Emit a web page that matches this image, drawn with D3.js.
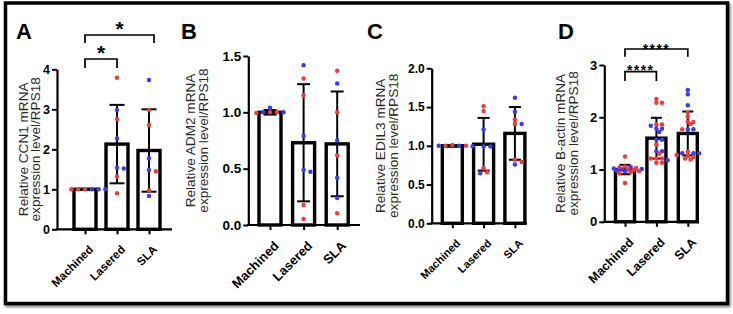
<!DOCTYPE html>
<html><head><meta charset="utf-8">
<script src="https://cdn.jsdelivr.net/npm/d3@7"></script>
<style>body{margin:0;background:#fff} svg{display:block}</style>
</head><body>
<svg id="chart" width="733" height="314"></svg>
<script>
// ---------- data ----------
const categories = ["Machined", "Lasered", "SLA"];
const panelLetters = ["A", "B", "C", "D"];
const yLabels = [
  ["Relative CCN1 mRNA", "expression level/RPS18"],
  ["Relative ADM2 mRNA", "expression level/RPS18"],
  ["Relative EDIL3 mRNA", "expression level/RPS18"],
  ["Relative B-actin mRNA", "expression level/RPS18"]
];
const yTicksA = [0, 1, 2, 3, 4];
const yTicksB = [0, 0.5, 1.0, 1.5];
const yTicksC = [0, 0.5, 1.0, 1.5, 2.0];
const yTicksD = [0, 1, 2, 3];

const meansA = [1.00, 2.13, 1.97];
const sdA    = [0.01, 0.98, 1.03];
const redA   = [[1.0, 1.0, 1.0], [3.79, 2.76, 1.32, 0.90], [2.98, 2.61, 1.45, 0.97]];
const blueA  = [[1.0, 1.0, 1.0], [2.98, 2.27, 1.52, 1.54], [3.73, 1.77, 1.48, 0.83]];

const meansB = [1.00, 0.73, 0.72];
const sdB    = [0.02, 0.52, 0.465];
const redB   = [[1.0, 1.0, 0.995], [1.30, 1.15, 0.177, 0.053], [1.37, 1.0, 0.62, 0.104]];
const blueB  = [[1.04, 1.0, 1.0], [1.417, 0.79, 0.473, 0.488], [1.257, 0.75, 0.42, 0.24]];

const meansC = [1.00, 1.02, 1.16];
const sdC    = [0.01, 0.34, 0.34];
const redC   = [[1.01, 1.0, 1.0], [1.51, 1.45, 0.71, 0.66], [1.34, 1.28, 0.82, 0.79]];
const blueC  = [[1.0, 0.995, 1.0], [1.21, 0.99, 0.99, 0.645], [1.62, 1.44, 1.28, 0.76]];

const meansD = [1.00, 1.60, 1.69];
const sdD    = [0.09, 0.39, 0.42];
const redD   = [[1.25, 0.74, 1.06, 1.03, 1.01, 0.99, 0.97, 0.95, 0.93, 1.04],
                [2.35, 2.28, 2.28, 1.86, 1.86, 1.48, 1.30, 1.21, 1.21, 1.21, 1.13, 1.13],
                [2.09, 2.01, 1.91, 1.91, 1.87, 1.77, 1.34, 1.28, 1.26, 1.24, 1.21, 1.19]];
const blueD  = [[1.05, 1.02, 1.0, 0.98, 0.96, 1.01],
                [1.84, 1.78, 1.78, 1.72, 1.57, 1.57, 1.35, 1.35, 1.18],
                [2.52, 2.44, 2.23, 1.77, 1.77, 1.31, 1.31, 1.31]];

const sigLabelsA = ["*", "*"];
const sigLabelsD = ["****", "****"];

// ---------- layout ----------
const RED = "#f03c3c", BLUE = "#3c3cf2";
const panels = [
  {letter: panelLetters[0], ylab: yLabels[0], ticks: yTicksA, fmt: d3.format("d"), ymax: 4,
   means: meansA, sd: sdA, red: redA, blue: blueA,
   axisX: 57, zeroY: 229.3, topY: 69.3, c0: 85, step: 32, barW: 22, capW: 15, axisEnd: 172,
   xFont: 11.5, tFont: 12.5, labX: 22.5, letX: 16, md: 4.3, ms: 3.4,
   sig: [{a: 0, b: 1, y: 59, drop: 68, t: sigLabelsA[0], fs: 21, ls: 0, off: 1},
         {a: 0, b: 2, y: 35, drop: 43, t: sigLabelsA[1], fs: 21, ls: 0, dx: 5, off: 1}]},
  {letter: panelLetters[1], ylab: yLabels[1], ticks: yTicksB, fmt: d3.format(".1f"), ymax: 1.5,
   means: meansB, sd: sdB, red: redB, blue: blueB,
   axisX: 248.3, zeroY: 225, topY: 56, c0: 270, step: 33.6, barW: 22, capW: 13, axisEnd: 360,
   xFont: 13, tFont: 13.5, labX: 190, letX: 181, md: 4.3, ms: 3.4, sig: []},
  {letter: panelLetters[2], ylab: yLabels[2], ticks: yTicksC, fmt: d3.format(".1f"), ymax: 2,
   means: meansC, sd: sdC, red: redC, blue: blueC,
   axisX: 431.7, zeroY: 223.3, topY: 68.3, c0: 452.3, step: 31.3, barW: 20, capW: 12, axisEnd: 527,
   xFont: 11, tFont: 12, labX: 380, letX: 367, md: 4.3, ms: 3.4, sig: []},
  {letter: panelLetters[3], ylab: yLabels[3], ticks: yTicksD, fmt: d3.format("d"), ymax: 3,
   means: meansD, sd: sdD, red: redD, blue: blueD,
   axisX: 604.3, zeroY: 221.8, topY: 65, c0: 625, step: 31.4, barW: 19, capW: 11, axisEnd: 697,
   xFont: 12.5, tFont: 13, labX: 560, letX: 558, md: 3.4, ms: 2.8,
   sig: [{a: 0, b: 1, y: 71.7, drop: 81, t: sigLabelsD[0], fs: 14, ls: 1.4, off: 3},
         {a: 0, b: 2, y: 49, drop: 56.7, t: sigLabelsD[1], fs: 14, ls: 1.4, off: 5}]}
];

const svg = d3.select("#chart");
const defs = svg.append("defs");
const f = defs.append("filter").attr("id", "sh").attr("x", "-5%").attr("y", "-5%").attr("width", "110%").attr("height", "110%");
f.append("feDropShadow").attr("dx", 1.5).attr("dy", 2).attr("stdDeviation", 1.2).attr("flood-color", "#000").attr("flood-opacity", 0.5);

// frame
svg.append("rect").attr("x", 5.5).attr("y", 3).attr("width", 722).attr("height", 300.5)
  .attr("fill", "#fff").attr("stroke", "#000").attr("stroke-width", 3.5).attr("filter", "url(#sh)");

const FONT = "'Liberation Sans', Arial, Helvetica, sans-serif";

function swarm(pts, cx, minDist, step) {
  const placed = [];
  pts.forEach(p => {
    let x = cx;
    for (let k = 0; k < 60; k++) {
      const off = k === 0 ? 0 : (k % 2 ? 1 : -1) * Math.ceil(k / 2) * step;
      x = cx + off;
      if (!placed.some(q => (q.x - x) ** 2 + (q.y - p.y) ** 2 < minDist * minDist)) break;
    }
    placed.push({x, y: p.y, c: p.c});
  });
  return placed;
}

panels.forEach(P => {
  const g = svg.append("g");
  const y = d3.scaleLinear().domain([0, P.ymax]).range([P.zeroY, P.topY]);
  const x = d3.scalePoint().domain(categories).range([P.c0, P.c0 + 2 * P.step]);

  // panel letter
  g.append("text").attr("x", P.letX).attr("y", 39).text(P.letter)
    .attr("font-family", FONT).attr("font-weight", "bold").attr("font-size", 22).attr("fill", "#000");

  // y label
  const mid = (P.zeroY + P.topY) / 2;
  P.ylab.forEach((t, i) => {
    g.append("text").attr("transform", `translate(${P.labX + i * 12.8 + 5},${mid}) rotate(-90)`)
      .attr("text-anchor", "middle").attr("font-family", FONT).attr("font-size", 13.6).attr("fill", "#2a2a2a")
      .text(t);
  });

  // bars
  g.selectAll("rect.bar").data(categories).join("rect")
    .attr("x", d => x(d) - P.barW / 2).attr("width", P.barW)
    .attr("y", (d, i) => y(P.means[i])).attr("height", (d, i) => P.zeroY - y(P.means[i]))
    .attr("fill", "#fff").attr("stroke", "#000").attr("stroke-width", 3.4);

  // error bars
  categories.forEach((c, i) => {
    const cx = x(c), hi = y(P.means[i] + P.sd[i]), lo = y(P.means[i] - P.sd[i]);
    const eg = g.append("g").attr("stroke", "#000").attr("stroke-width", 2);
    eg.append("line").attr("x1", cx).attr("x2", cx).attr("y1", hi).attr("y2", lo);
    eg.append("line").attr("x1", cx - P.capW / 2).attr("x2", cx + P.capW / 2).attr("y1", hi).attr("y2", hi);
    eg.append("line").attr("x1", cx - P.capW / 2).attr("x2", cx + P.capW / 2).attr("y1", lo).attr("y2", lo);
  });

  // axes
  const ya = d3.axisLeft(y).tickValues(P.ticks).tickFormat(P.fmt).tickSize(5).tickSizeOuter(0).tickPadding(2);
  const yg = g.append("g").attr("transform", `translate(${P.axisX},0)`).call(ya);
  yg.select(".domain").attr("stroke-width", 2.2);
  yg.selectAll(".tick line").attr("stroke-width", 2);
  yg.selectAll(".tick text").attr("font-family", FONT).attr("font-weight", "bold").attr("font-size", P.tFont).attr("fill", "#000");

  const xa = d3.axisBottom(x).tickSize(5).tickSizeOuter(0).tickFormat("");
  const xg = g.append("g").attr("transform", `translate(0,${P.zeroY})`).call(xa);
  xg.select(".domain").remove();
  xg.selectAll(".tick line").attr("stroke-width", 2);
  g.append("line").attr("x1", P.axisX - 1.1).attr("x2", P.axisEnd).attr("y1", P.zeroY).attr("y2", P.zeroY)
    .attr("stroke", "#000").attr("stroke-width", 2.2);
  categories.forEach(c => {
    g.append("text").attr("transform", `translate(${x(c) + 3},${P.zeroY + 15}) rotate(-45)`)
      .attr("text-anchor", "end").attr("dy", "0.72em")
      .attr("font-family", FONT).attr("font-weight", "bold").attr("font-size", P.xFont).attr("fill", "#000")
      .text(c);
  });

  // points
  categories.forEach((c, i) => {
    const pts = [];
    const r = P.red[i], b = P.blue[i];
    const n = Math.max(r.length, b.length);
    for (let k = 0; k < n; k++) {
      if (k < r.length) pts.push({y: y(r[k]), c: RED});
      if (k < b.length) pts.push({y: y(b[k]), c: BLUE});
    }
    pts.sort((p, q) => p.y - q.y);
    const placed = swarm(pts, x(c), P.md, P.ms);
    g.selectAll(null).data(placed).join("circle")
      .attr("cx", d => d.x).attr("cy", d => d.y).attr("r", 2.25).attr("fill", d => d.c);
  });

  // significance brackets
  P.sig.forEach(s => {
    const x1 = x(categories[s.a]), x2 = x(categories[s.b]) + (s.dx || 0);
    g.append("path").attr("d", `M${x1},${s.drop}V${s.y}H${x2}V${s.drop}`)
      .attr("fill", "none").attr("stroke", "#000").attr("stroke-width", 1.7);
    g.append("text").attr("x", (x1 + x2) / 2).attr("y", s.y + s.off)
      .attr("text-anchor", "middle").attr("font-family", FONT).attr("font-weight", "bold")
      .attr("font-size", s.fs).attr("letter-spacing", s.ls).attr("fill", "#000").text(s.t);
  });
});
</script>
</body></html>
